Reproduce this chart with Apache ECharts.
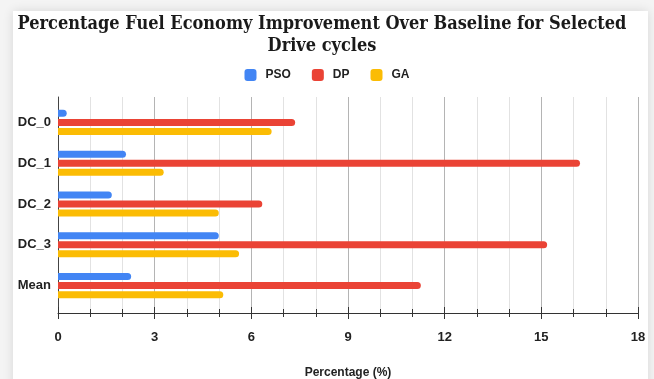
<!DOCTYPE html>
<html>
<head>
<meta charset="utf-8">
<script src="https://cdn.jsdelivr.net/npm/echarts@6/dist/echarts.min.js"></script>
<style>
  html, body { margin: 0; padding: 0; background: #f4f4f4; }
  #chart { width: 654px; height: 379px; }
</style>
</head>
<body>
<div id="chart"></div>
<script>
// Drive cycles and fuel economy improvement (%) per optimiser
const categories = ['DC_0', 'DC_1', 'DC_2', 'DC_3', 'Mean'];
const psoValues = [0.27, 2.11, 1.67, 4.99, 2.27];
const dpValues  = [7.36, 16.2, 6.34, 15.18, 11.26];
const gaValues  = [6.63, 3.28, 4.99, 5.62, 5.13];
const seriesNames = ['PSO', 'DP', 'GA'];
const seriesColors = ['#4285F4', '#EA4335', '#FBBC04'];
const axisMin = 0, axisMax = 18, axisStep = 3;

const chart = echarts.init(document.getElementById('chart'));

const labelFont = { fontFamily: 'Liberation Sans, Arial, sans-serif', fontWeight: 'bold', color: '#222' };

function barSeries(name, data, color) {
  return {
    name: name,
    type: 'bar',
    xAxisIndex: 2,
    yAxisIndex: 1,
    data: data,
    barWidth: 7,
    barGap: '29%',
    itemStyle: { color: color, borderRadius: [0, 3.5, 3.5, 0] }
  };
}

chart.setOption({
  backgroundColor: '#f4f4f4',
  animation: false,
  color: seriesColors,
  graphic: [{
    type: 'rect',
    z: -10,
    silent: true,
    shape: { x: 13, y: 11, width: 635, height: 420 },
    style: { fill: '#ffffff', shadowBlur: 10, shadowColor: 'rgba(0,0,0,0.12)' }
  }],
  title: {
    text: 'Percentage Fuel Economy Improvement Over Baseline for Selected\nDrive cycles',
    left: 317,
    textAlign: 'center',
    top: 8,
    textStyle: {
      fontFamily: 'DejaVu Serif Condensed, DejaVu Serif, serif',
      fontWeight: 'bold',
      fontSize: 18,
      lineHeight: 22,
      color: '#1a1a1a'
    }
  },
  legend: {
    data: seriesNames,
    left: 'center',
    top: 64,
    icon: 'roundRect',
    itemWidth: 12,
    itemHeight: 12,
    itemGap: 21,
    textStyle: Object.assign({ fontSize: 12, padding: [0, 0, 0, 4] }, labelFont)
  },
  grid: [
    // frame: gridlines and the percentage axis
    { left: 58, right: 16, top: 97, bottom: 66, outerBoundsMode: 'none', containLabel: false },
    // bars
    { left: 58, right: 16, top: 102, bottom: 73, outerBoundsMode: 'none', containLabel: false }
  ],
  xAxis: [
    {
      gridIndex: 0,
      type: 'value',
      min: axisMin, max: axisMax, interval: axisStep,
      name: 'Percentage (%)',
      nameLocation: 'middle',
      nameGap: 54,
      nameTextStyle: Object.assign({ fontSize: 12 }, labelFont),
      axisLine: { show: true, lineStyle: { color: '#333', width: 1 } },
      axisTick: { show: true, inside: false, length: 6, lineStyle: { color: '#333' } },
      minorTick: { show: true, splitNumber: 3, length: 4, lineStyle: { color: '#333' } },
      axisLabel: Object.assign({ fontSize: 13, margin: 18 }, labelFont),
      splitLine: { show: true, lineStyle: { color: '#b4b4b4', width: 1 } },
      minorSplitLine: { show: true, lineStyle: { color: '#e2e2e2', width: 1 } }
    },
    {
      gridIndex: 0,
      type: 'value',
      position: 'bottom',
      min: axisMin, max: axisMax, interval: axisStep,
      axisLine: { show: false },
      axisTick: { show: true, inside: true, length: 6, lineStyle: { color: '#333' } },
      minorTick: { show: true, splitNumber: 3, length: 4, lineStyle: { color: '#333' } },
      axisLabel: { show: false },
      splitLine: { show: false }
    },
    {
      gridIndex: 1,
      type: 'value',
      min: axisMin, max: axisMax,
      show: false
    }
  ],
  yAxis: [
    {
      gridIndex: 0,
      type: 'value',
      min: 0, max: 1,
      axisLine: { show: true, lineStyle: { color: '#444', width: 1 } },
      axisTick: { show: false },
      axisLabel: { show: false },
      splitLine: { show: false }
    },
    {
      gridIndex: 1,
      type: 'category',
      data: categories,
      inverse: true,
      axisLine: { show: false },
      axisTick: { show: false },
      axisLabel: Object.assign({ fontSize: 13, margin: 7 }, labelFont),
      splitLine: { show: false }
    }
  ],
  series: [
    barSeries(seriesNames[0], psoValues, seriesColors[0]),
    barSeries(seriesNames[1], dpValues, seriesColors[1]),
    barSeries(seriesNames[2], gaValues, seriesColors[2])
  ]
});
</script>
</body>
</html>
